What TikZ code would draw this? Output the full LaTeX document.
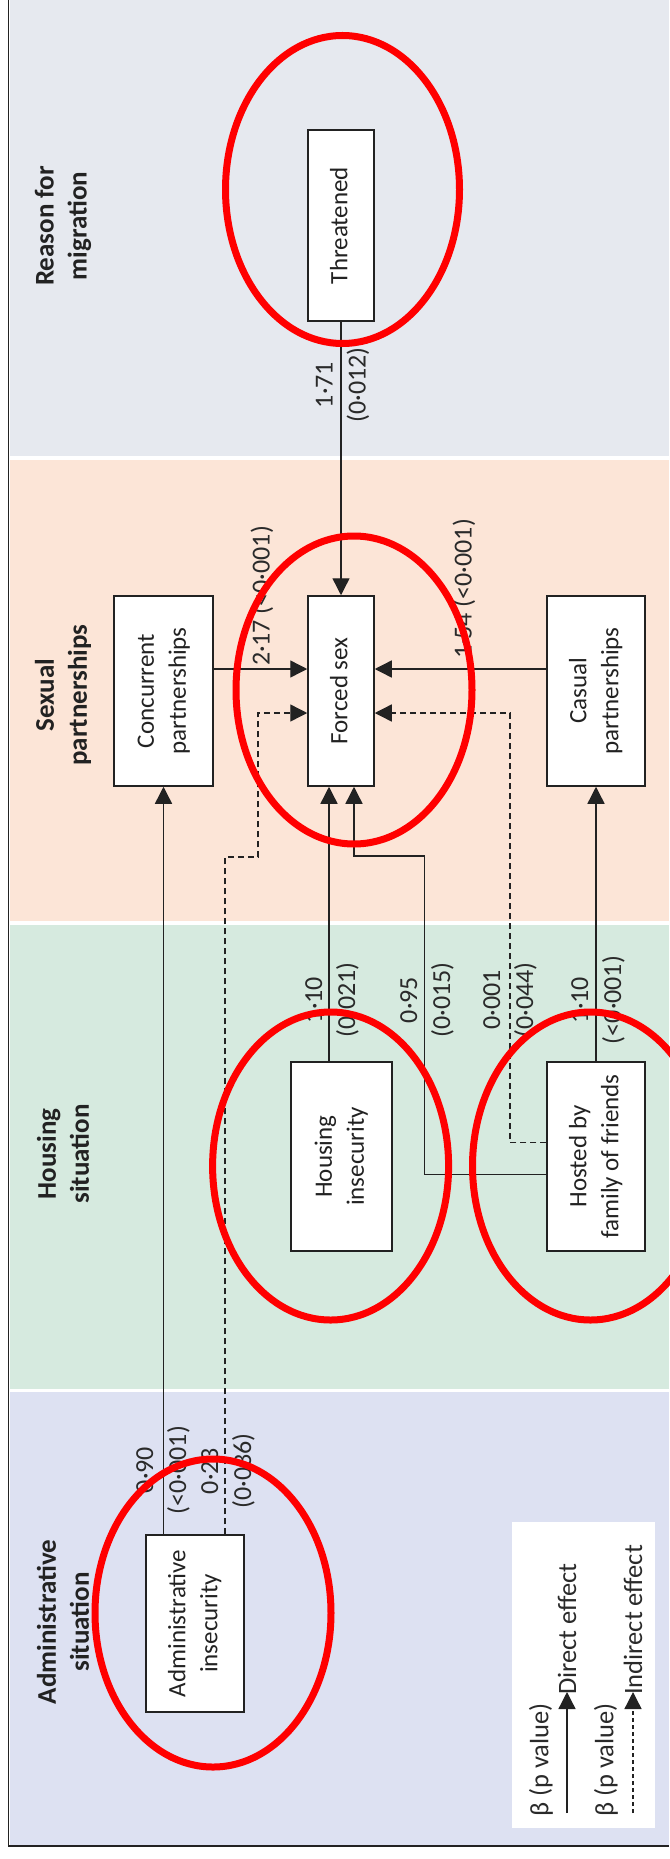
\documentclass[tikz,border=0pt]{standalone}
\usepackage{fontspec}
\setmainfont{Carlito}
\usepackage{graphicx}
\usetikzlibrary{arrows.meta}
\definecolor{bgrey}{HTML}{E6E9EF}
\definecolor{bpeach}{HTML}{FCE5D7}
\definecolor{bgreen}{HTML}{D6EADF}
\definecolor{blav}{HTML}{DDE1F2}
\definecolor{ink}{HTML}{222222}
\definecolor{lblink}{HTML}{2A2A2A}
\definecolor{ring}{HTML}{FF0000}
\newcommand{\rtxt}[1]{\rotatebox{90}{\begin{tabular}{@{}c@{}}#1\end{tabular}}}
\newcommand{\boxfont}{\fontsize{25}{32}\selectfont}
\newcommand{\lblfont}{\fontsize{26}{33}\selectfont}
\newcommand{\legfont}{\fontsize{26.5}{33}\selectfont}
\newcommand{\hdrfont}{\bfseries\fontsize{27}{33}\selectfont}
\begin{document}
\begin{tikzpicture}[x=1pt,y=-1pt,
  box/.style={draw=ink, line width=1.5pt, fill=white, inner sep=0pt, font=\boxfont, text=ink},
  arr/.style={draw=ink, line width=1.4pt, -{Triangle[length=17pt,width=17pt]}},
  dsh/.style={arr, dash pattern=on 6pt off 4pt},
  lbl/.style={rotate=90, align=center, inner sep=0pt, font=\lblfont, text=lblink},
  leglbl/.style={lbl, font=\legfont},
  hdr/.style={rotate=90, align=center, inner sep=0pt, font=\hdrfont, text=ink},
  redring/.style={draw=ring, line width=7pt}]
\useasboundingbox (0,0) rectangle (669,1859);
\fill[white] (0,0) rectangle (669,1859);
% bands
\fill[bgrey]  (9.5,0)    rectangle (669,456);
\fill[bpeach] (9.5,460)  rectangle (669,921);
\fill[bgreen] (9.5,925)  rectangle (669,1389);
\fill[blav]   (9.5,1392) rectangle (669,1845);
\draw[ink, line width=1.5pt] (8.5,0) -- (8.5,1846) -- (669,1846);
% headers
\node[hdr] (h1) at (63,226)  {Reason for\\migration};
\node[hdr] (h2) at (63,695)  {Sexual\\partnerships};
\node[hdr] (h3) at (63,1154) {Housing\\situation};
\node[hdr] (h4) at (63,1622) {Administrative\\situation};
% boxes
\node[box, minimum width=66pt, minimum height=191pt] (thr) at (341,225.5) {\rtxt{Threatened}};
\node[box, minimum width=66pt, minimum height=190pt] (fs)  at (341,691)   {\rtxt{Forced sex}};
\node[box, minimum width=99pt, minimum height=190pt] (cp)  at (163.5,691) {\rtxt{Concurrent\\partnerships}};
\node[box, minimum width=98pt, minimum height=190pt] (cas) at (596,691)   {\rtxt{Casual\\partnerships}};
\node[box, minimum width=101pt, minimum height=189pt] (hi) at (341.5,1156.5) {\rtxt{Housing\\insecurity}};
\node[box, minimum width=98pt, minimum height=189pt] (hf)  at (596,1156.5) {\rtxt{Hosted by\\family of friends}};
\node[box, minimum width=98pt, minimum height=177pt] (adm) at (195,1623.5) {\rtxt{Administrative\\insecurity}};
% connectors
\draw[arr] (thr.south) -- (fs.north);
\draw[arr] ([yshift=22pt]cp.east) -- ([yshift=22pt]fs.west);
\draw[arr] ([yshift=22pt]cas.west) -- ([yshift=22pt]fs.east);
\draw[dsh] ([xshift=30pt]adm.north) |- (258,857) |- ([yshift=-22pt]fs.west);
\draw[dsh] ([yshift=14pt]hf.west) -| (510,713) -- ([yshift=-22pt]fs.east);
\draw[arr] ([xshift=-12.5pt]hi.north) -- ([xshift=-12pt]fs.south);
\draw[arr] ([yshift=-18pt]hf.west) -| (424.5,856) -| ([xshift=13pt]fs.south);
\draw[arr] (adm.north -| cp.south) -- (cp.south);
\draw[arr] (hf.north) -- (cas.south);
% labels
\node[lbl] (l1) at (342.5,385) {1·71\\(0·012)};
\node[lbl] (l2) at (262,596) {2·17 (<0·001)};
\node[lbl] (l3) at (464,589) {1·54 (<0·001)};
\node[lbl] (l4) at (332,1000) {1·10\\(0·021)};
\node[lbl] (l5) at (427,1000) {0·95\\(0·015)};
\node[lbl] (l6) at (510,1000) {0·001\\(0·044)};
\node[lbl] (l7) at (598,1000) {1·10\\(<0·001)};
\node[lbl] (l8) at (163,1470) {0·90\\(<0·001)};
\node[lbl] (l9) at (228,1471) {0·23\\(0·036)};
% legend
\node[fill=white, minimum width=143pt, minimum height=306pt, inner sep=0pt] (leg) at (583.5,1675) {};
\coordinate (d1s) at (567,1813);
\coordinate (d1e) at (567,1692);
\coordinate (d2s) at (633,1813);
\coordinate (d2e) at (633,1692);
\draw[arr] (d1s) -- (d1e);
\draw[dsh, dash pattern=on 4pt off 3pt] (d2s) -- (d2e);
\node[leglbl] (lg1) at (541,1760) {β (p value)};
\node[leglbl, anchor=west] (lg2) at ([yshift=-3pt]d1e) {Direct effect};
\node[leglbl] (lg3) at (606,1760) {β (p value)};
\node[leglbl, anchor=west] (lg4) at ([yshift=-3pt]d2e) {Indirect effect};
% red rings
\draw[redring] (342.5,189.5) ellipse [x radius=117, y radius=154];
\draw[redring] (354,690) ellipse [x radius=118, y radius=154];
\draw[redring] (330.6,1166) ellipse [x radius=118, y radius=154];
\draw[redring] (590.5,1166) ellipse [x radius=118, y radius=154];
\draw[redring] (213,1613) ellipse [x radius=118, y radius=154];
\end{tikzpicture}
\end{document}
